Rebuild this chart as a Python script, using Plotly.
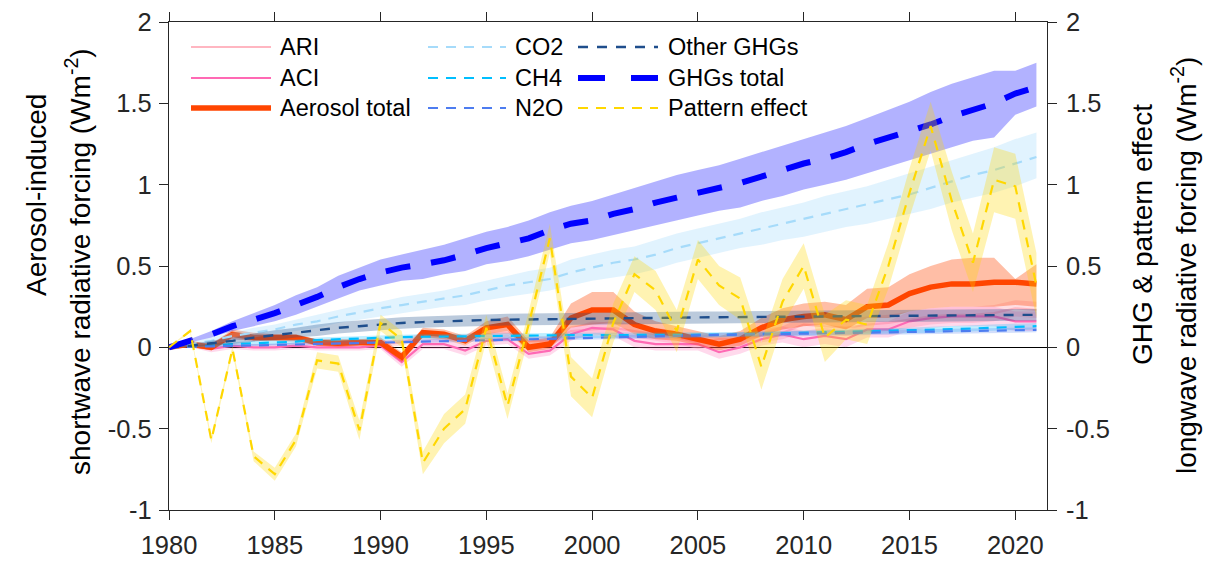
import plotly.graph_objects as go

years = list(range(1980, 2022))

# --- aerosol-induced shortwave forcing (W m-2) ---
ari = [0.00, 0.01, 0.01, 0.07, 0.06, 0.06, 0.05, 0.03, 0.025, 0.03, 0.02, 0.03, 0.07, 0.06,
       0.06, 0.08, 0.09, 0.04, 0.04, 0.10, 0.11, 0.12, 0.10, 0.08, 0.06, 0.03, 0.05, 0.05,
       0.07, 0.09, 0.14, 0.13, 0.12, 0.14, 0.15, 0.17, 0.19, 0.20, 0.20, 0.21, 0.24, 0.23]
ari_lo = [0.00, 0.00, -0.01, 0.05, 0.04, 0.04, 0.03, 0.01, 0.00, 0.01, 0.00, 0.01, 0.05, 0.04,
          0.04, 0.05, 0.06, 0.01, 0.01, 0.07, 0.07, 0.08, 0.06, 0.04, 0.02, -0.01, 0.01, 0.01,
          0.03, 0.05, 0.09, 0.08, 0.07, 0.09, 0.10, 0.12, 0.14, 0.15, 0.15, 0.16, 0.19, 0.18]
ari_hi = [0.00, 0.02, 0.03, 0.09, 0.08, 0.08, 0.07, 0.05, 0.05, 0.05, 0.04, 0.05, 0.09, 0.08,
          0.08, 0.11, 0.12, 0.07, 0.07, 0.13, 0.15, 0.16, 0.14, 0.12, 0.10, 0.07, 0.09, 0.09,
          0.11, 0.13, 0.19, 0.18, 0.17, 0.19, 0.20, 0.22, 0.24, 0.25, 0.25, 0.26, 0.29, 0.28]

aci = [0.00, 0.01, -0.01, 0.01, 0.00, 0.00, 0.01, 0.00, 0.00, 0.00, 0.01, -0.09, 0.02, 0.02,
       -0.02, 0.04, 0.05, -0.04, -0.02, 0.08, 0.12, 0.11, 0.04, 0.02, 0.02, 0.02, -0.03, 0.00,
       0.05, 0.08, 0.05, 0.07, 0.05, 0.11, 0.11, 0.16, 0.18, 0.19, 0.19, 0.19, 0.16, 0.16]
aci_lo = [0.00, 0.00, -0.03, -0.01, -0.02, -0.02, -0.01, -0.02, -0.02, -0.02, -0.01, -0.12, -0.01, -0.01,
          -0.05, 0.01, 0.02, -0.07, -0.05, 0.04, 0.08, 0.07, 0.00, -0.02, -0.02, -0.02, -0.07, -0.04,
          0.01, 0.03, 0.00, 0.02, 0.00, 0.06, 0.06, 0.10, 0.12, 0.13, 0.13, 0.13, 0.10, 0.10]
aci_hi = [0.00, 0.02, 0.01, 0.03, 0.02, 0.02, 0.03, 0.02, 0.02, 0.02, 0.03, -0.06, 0.05, 0.05,
          0.01, 0.07, 0.08, -0.01, 0.01, 0.12, 0.16, 0.15, 0.08, 0.06, 0.06, 0.06, 0.01, 0.04,
          0.09, 0.13, 0.10, 0.12, 0.10, 0.16, 0.16, 0.22, 0.24, 0.25, 0.25, 0.25, 0.22, 0.22]

aer_total = [0.00, 0.02, 0.00, 0.08, 0.06, 0.06, 0.06, 0.03, 0.025, 0.03, 0.03, -0.06, 0.09, 0.08,
             0.04, 0.12, 0.14, 0.00, 0.02, 0.18, 0.23, 0.23, 0.14, 0.10, 0.08, 0.05, 0.02, 0.05,
             0.12, 0.17, 0.19, 0.20, 0.17, 0.25, 0.26, 0.33, 0.37, 0.39, 0.39, 0.40, 0.40, 0.39]
aer_lo = [0.00, 0.00, -0.02, 0.05, 0.04, 0.04, 0.04, 0.01, 0.00, 0.01, 0.01, -0.09, 0.06, 0.05,
          0.01, 0.08, 0.10, -0.03, -0.01, 0.12, 0.14, 0.15, 0.08, 0.05, 0.04, 0.01, -0.02, 0.01,
          0.07, 0.11, 0.13, 0.14, 0.11, 0.18, 0.18, 0.22, 0.24, 0.25, 0.25, 0.25, 0.26, 0.25]
aer_hi = [0.00, 0.04, 0.02, 0.11, 0.09, 0.08, 0.08, 0.05, 0.05, 0.05, 0.06, -0.03, 0.12, 0.11,
          0.07, 0.16, 0.19, 0.04, 0.06, 0.27, 0.34, 0.34, 0.22, 0.16, 0.13, 0.10, 0.07, 0.10,
          0.18, 0.24, 0.27, 0.28, 0.26, 0.36, 0.37, 0.45, 0.50, 0.54, 0.55, 0.55, 0.42, 0.51]

# --- greenhouse-gas longwave forcing (W m-2) ---
co2 = [0.00, 0.02, 0.04, 0.07, 0.09, 0.11, 0.14, 0.16, 0.19, 0.215, 0.24, 0.26, 0.28, 0.30,
       0.32, 0.35, 0.38, 0.40, 0.42, 0.46, 0.49, 0.52, 0.54, 0.57, 0.61, 0.64, 0.67, 0.70,
       0.73, 0.76, 0.79, 0.82, 0.85, 0.88, 0.91, 0.94, 0.98, 1.02, 1.06, 1.09, 1.13, 1.17]
co2_lo = [0.00, 0.01, 0.02, 0.04, 0.06, 0.08, 0.10, 0.12, 0.15, 0.17, 0.19, 0.21, 0.23, 0.25,
          0.26, 0.29, 0.31, 0.33, 0.35, 0.38, 0.41, 0.43, 0.45, 0.48, 0.52, 0.55, 0.58, 0.61,
          0.63, 0.66, 0.68, 0.71, 0.74, 0.76, 0.79, 0.82, 0.85, 0.89, 0.92, 0.95, 0.99, 1.04]
co2_hi = [0.00, 0.03, 0.06, 0.09, 0.12, 0.14, 0.17, 0.20, 0.23, 0.26, 0.28, 0.31, 0.33, 0.35,
          0.38, 0.41, 0.44, 0.47, 0.49, 0.54, 0.57, 0.60, 0.62, 0.66, 0.70, 0.73, 0.76, 0.79,
          0.83, 0.86, 0.89, 0.93, 0.96, 0.99, 1.03, 1.07, 1.11, 1.15, 1.19, 1.23, 1.28, 1.32]

ch4 = [0.00, 0.005, 0.01, 0.02, 0.025, 0.03, 0.035, 0.045, 0.05, 0.055, 0.06, 0.063, 0.065, 0.067,
       0.068, 0.07, 0.07, 0.071, 0.073, 0.075, 0.075, 0.075, 0.076, 0.076, 0.076, 0.077, 0.078, 0.08,
       0.083, 0.086, 0.088, 0.09, 0.093, 0.096, 0.10, 0.104, 0.108, 0.112, 0.116, 0.12, 0.125, 0.13]
ch4_lo = [0.00, 0.00, 0.00, 0.01, 0.01, 0.015, 0.02, 0.03, 0.035, 0.04, 0.045, 0.048, 0.05, 0.052,
          0.053, 0.055, 0.055, 0.056, 0.058, 0.06, 0.06, 0.06, 0.061, 0.061, 0.061, 0.062, 0.063, 0.065,
          0.067, 0.07, 0.072, 0.074, 0.077, 0.08, 0.083, 0.087, 0.09, 0.094, 0.098, 0.10, 0.105, 0.11]
ch4_hi = [0.00, 0.01, 0.02, 0.03, 0.04, 0.045, 0.05, 0.06, 0.065, 0.07, 0.075, 0.078, 0.08, 0.082,
          0.083, 0.085, 0.085, 0.086, 0.088, 0.09, 0.09, 0.09, 0.091, 0.091, 0.091, 0.092, 0.093, 0.095,
          0.099, 0.102, 0.104, 0.106, 0.109, 0.112, 0.117, 0.121, 0.126, 0.13, 0.134, 0.14, 0.145, 0.15]

n2o = [0.00, 0.003, 0.006, 0.01, 0.013, 0.016, 0.02, 0.023, 0.026, 0.03, 0.033, 0.036, 0.038, 0.04,
       0.043, 0.046, 0.049, 0.052, 0.055, 0.058, 0.06, 0.063, 0.066, 0.068, 0.07, 0.073, 0.076, 0.078,
       0.08, 0.083, 0.085, 0.087, 0.089, 0.091, 0.093, 0.095, 0.097, 0.099, 0.101, 0.103, 0.105, 0.107]
n2o_lo = [0.00, 0.00, 0.00, 0.003, 0.005, 0.008, 0.011, 0.014, 0.016, 0.02, 0.022, 0.025, 0.027, 0.029,
          0.031, 0.034, 0.037, 0.04, 0.042, 0.045, 0.047, 0.05, 0.052, 0.054, 0.056, 0.059, 0.061, 0.063,
          0.065, 0.068, 0.07, 0.072, 0.074, 0.076, 0.078, 0.08, 0.082, 0.084, 0.086, 0.088, 0.09, 0.092]
n2o_hi = [0.00, 0.006, 0.012, 0.017, 0.021, 0.024, 0.029, 0.032, 0.036, 0.04, 0.044, 0.047, 0.049, 0.051,
          0.055, 0.058, 0.061, 0.064, 0.068, 0.071, 0.073, 0.076, 0.08, 0.082, 0.084, 0.087, 0.091, 0.093,
          0.095, 0.098, 0.10, 0.102, 0.104, 0.106, 0.108, 0.11, 0.112, 0.114, 0.116, 0.118, 0.12, 0.122]

other = [0.00, 0.01, 0.025, 0.04, 0.06, 0.075, 0.09, 0.105, 0.12, 0.13, 0.14, 0.15, 0.155, 0.16,
         0.165, 0.168, 0.17, 0.172, 0.174, 0.176, 0.178, 0.18, 0.181, 0.182, 0.183, 0.184, 0.185, 0.186,
         0.187, 0.188, 0.189, 0.19, 0.19, 0.191, 0.192, 0.193, 0.194, 0.195, 0.196, 0.197, 0.198, 0.20]
other_lo = [0.00, 0.00, 0.01, 0.02, 0.035, 0.045, 0.06, 0.07, 0.085, 0.095, 0.105, 0.115, 0.12, 0.125,
            0.13, 0.132, 0.134, 0.136, 0.138, 0.14, 0.142, 0.144, 0.145, 0.146, 0.147, 0.148, 0.149, 0.15,
            0.151, 0.152, 0.153, 0.154, 0.154, 0.155, 0.156, 0.157, 0.158, 0.159, 0.16, 0.161, 0.162, 0.164]
other_hi = [0.00, 0.02, 0.04, 0.06, 0.085, 0.105, 0.12, 0.14, 0.155, 0.165, 0.175, 0.185, 0.19, 0.195,
            0.20, 0.204, 0.206, 0.208, 0.21, 0.212, 0.214, 0.216, 0.217, 0.218, 0.219, 0.22, 0.221, 0.222,
            0.223, 0.224, 0.225, 0.226, 0.226, 0.227, 0.228, 0.229, 0.23, 0.231, 0.232, 0.233, 0.234, 0.236]

ghg_total = [0.00, 0.04, 0.08, 0.13, 0.17, 0.21, 0.26, 0.31, 0.37, 0.42, 0.46, 0.49, 0.51, 0.535,
             0.57, 0.61, 0.64, 0.67, 0.72, 0.76, 0.78, 0.82, 0.85, 0.89, 0.92, 0.95, 0.98, 1.01,
             1.05, 1.09, 1.13, 1.16, 1.20, 1.25, 1.29, 1.33, 1.37, 1.42, 1.46, 1.50, 1.56, 1.60]
ghg_lo = [0.00, 0.03, 0.06, 0.10, 0.13, 0.16, 0.20, 0.25, 0.30, 0.35, 0.38, 0.41, 0.42, 0.45,
          0.47, 0.51, 0.53, 0.56, 0.60, 0.64, 0.66, 0.69, 0.72, 0.75, 0.78, 0.81, 0.84, 0.86,
          0.90, 0.93, 0.97, 1.00, 1.03, 1.07, 1.11, 1.15, 1.19, 1.23, 1.27, 1.29, 1.43, 1.48]
ghg_hi = [0.00, 0.05, 0.10, 0.16, 0.21, 0.26, 0.32, 0.37, 0.44, 0.49, 0.54, 0.57, 0.60, 0.63,
          0.67, 0.71, 0.74, 0.78, 0.83, 0.87, 0.90, 0.94, 0.98, 1.02, 1.06, 1.09, 1.12, 1.16,
          1.20, 1.24, 1.28, 1.32, 1.36, 1.41, 1.46, 1.51, 1.57, 1.62, 1.66, 1.70, 1.70, 1.75]

pattern = [0.00, 0.10, -0.57, -0.01, -0.67, -0.78, -0.57, -0.08, -0.10, -0.51, 0.15, 0.05, -0.71, -0.50,
           -0.38, 0.12, -0.36, 0.14, 0.67, -0.18, -0.31, 0.15, 0.45, 0.35, 0.10, 0.54, 0.38, 0.30,
           -0.12, 0.28, 0.50, 0.06, 0.17, 0.14, 0.50, 0.95, 1.36, 0.90, 0.52, 1.03, 0.99, 0.38]
pattern_lo = [0.00, 0.09, -0.59, -0.03, -0.70, -0.82, -0.61, -0.13, -0.15, -0.57, 0.10, 0.00, -0.78, -0.59,
              -0.47, 0.04, -0.44, 0.06, 0.58, -0.30, -0.43, 0.03, 0.34, 0.23, -0.03, 0.42, 0.26, 0.17,
              -0.26, 0.14, 0.36, -0.09, 0.05, 0.02, 0.36, 0.80, 1.21, 0.72, 0.34, 0.83, 0.79, 0.18]
pattern_hi = [0.00, 0.11, -0.55, 0.01, -0.64, -0.74, -0.53, -0.03, -0.05, -0.45, 0.20, 0.10, -0.64, -0.41,
              -0.29, 0.20, -0.28, 0.22, 0.76, -0.06, -0.19, 0.27, 0.56, 0.47, 0.23, 0.66, 0.50, 0.43,
              0.03, 0.42, 0.64, 0.20, 0.29, 0.26, 0.64, 1.10, 1.51, 1.08, 0.70, 1.23, 1.19, 0.58]

y_ticks = [-1, -0.5, 0, 0.5, 1, 1.5, 2]
y_ticktext = ["-1", "-0.5", "0", "0.5", "1", "1.5", "2"]
x_ticks = [1980, 1985, 1990, 1995, 2000, 2005, 2010, 2015, 2020]

FONT = "Liberation Sans, Arial, sans-serif"
INK = "#262626"

# (name, line, lo, hi, colour, band rgba, width, dash, axis)
series = [
    ("ARI", ari, ari_lo, ari_hi, "#FFB6C1", "rgba(255,182,193,0.45)", 2.2, "solid", "y"),
    ("ACI", aci, aci_lo, aci_hi, "#FF69B4", "rgba(255,105,180,0.25)", 2.2, "solid", "y"),
    ("Aerosol total", aer_total, aer_lo, aer_hi, "#FF4500", "rgba(255,69,0,0.35)", 5.5, "solid", "y"),
    ("CO2", co2, co2_lo, co2_hi, "#A6DBFA", "rgba(135,206,250,0.25)", 2.2, "10px,8px", "y2"),
    ("CH4", ch4, ch4_lo, ch4_hi, "#00BFFF", "rgba(0,191,255,0.25)", 2.2, "10px,8px", "y2"),
    ("N2O", n2o, n2o_lo, n2o_hi, "#4D7CF0", "rgba(77,124,240,0.25)", 2.2, "10px,8px", "y2"),
    ("Other GHGs", other, other_lo, other_hi, "#1F4E8C", "rgba(31,78,140,0.3)", 2.4, "10px,9px", "y2"),
    ("GHGs total", ghg_total, ghg_lo, ghg_hi, "#0000FF", "rgba(0,0,255,0.3)", 6, "25px,21px", "y2"),
    ("Pattern effect", pattern, pattern_lo, pattern_hi, "#FFD700", "rgba(255,215,0,0.3)", 2.2, "10px,8px", "y2"),
]

fig = go.Figure()
for name, vals, lo, hi, col, band, w, dash, ax in series:
    fig.add_trace(go.Scatter(
        x=years + years[::-1], y=hi + lo[::-1], fill="toself", fillcolor=band,
        line=dict(width=0), mode="lines", hoverinfo="skip", showlegend=False, yaxis=ax))
    fig.add_trace(go.Scatter(
        x=years, y=vals, mode="lines", name=name, showlegend=False, yaxis=ax,
        line=dict(color=col, width=w, dash=dash)))

# plot-area geometry in pixels
W, H = 1212, 565
L, R, T, B = 169, 1047, 22, 510


def px_x(px):
    return (px - L) / (R - L)


def px_y(py):
    return 1 - (py - T) / (B - T)


# three-column key in the upper left
key_cols = [(191, 271, 278), (428, 506, 513), (578, 658, 666)]
key_rows = [47, 78, 108]
shapes = []
annotations = []
for i, (name, vals, lo, hi, col, band, w, dash, ax) in enumerate(series):
    x0, x1, xt = key_cols[i // 3]
    yr = key_rows[i % 3]
    key_dash = "27px,26px" if name == "GHGs total" else dash
    shapes.append(dict(type="line", xref="paper", yref="paper",
                       x0=px_x(x0), x1=px_x(x1), y0=px_y(yr), y1=px_y(yr),
                       line=dict(color=col, width=w, dash=key_dash)))
    annotations.append(dict(xref="paper", yref="paper", x=px_x(xt), y=px_y(yr),
                            text=name, showarrow=False, xanchor="left", yanchor="middle",
                            font=dict(family=FONT, size=23.5, color="black")))

# axis titles (two lines each side)
title_font = dict(family=FONT, size=28, color="black")
for text, xpx, ypx in [
    ("Aerosol-induced", 36, 195),
    ("shortwave radiative forcing (Wm<sup>-2</sup>)", 78, 262),
    ("GHG & pattern effect", 1142, 235),
    ("longwave radiative forcing (Wm<sup>-2</sup>)", 1184, 266),
]:
    annotations.append(dict(xref="paper", yref="paper", x=px_x(xpx), y=px_y(ypx),
                            text=text, showarrow=False, textangle=-90,
                            xanchor="center", yanchor="middle", font=title_font))

tick_font = dict(family=FONT, size=25.5, color=INK)
axis_common = dict(showgrid=False, linecolor=INK, linewidth=1.3, automargin=False,
                   ticks="outside", ticklen=9, tickwidth=1.3, tickcolor=INK,
                   tickfont=tick_font)

fig.update_layout(
    width=W, height=H,
    margin=dict(l=L, r=W - R, t=T, b=H - B, autoexpand=False),
    paper_bgcolor="white", plot_bgcolor="white",
    showlegend=False,
    xaxis=dict(range=[1980, 2021.5], tickvals=x_ticks, showline=True, mirror="ticks",
               zeroline=False, ticklabelstandoff=3, **axis_common),
    yaxis=dict(range=[-1, 2], tickvals=y_ticks, ticktext=y_ticktext, showline=True, mirror=True,
               zeroline=True, zerolinecolor="black", zerolinewidth=1.3,
               ticklabelstandoff=2, **axis_common),
    yaxis2=dict(range=[-1, 2], tickvals=y_ticks, ticktext=y_ticktext, overlaying="y",
                side="right", zeroline=False, showline=False, ticklabelstandoff=4,
                **axis_common),
    shapes=shapes,
    annotations=annotations,
)

fig.write_html("out.html")
